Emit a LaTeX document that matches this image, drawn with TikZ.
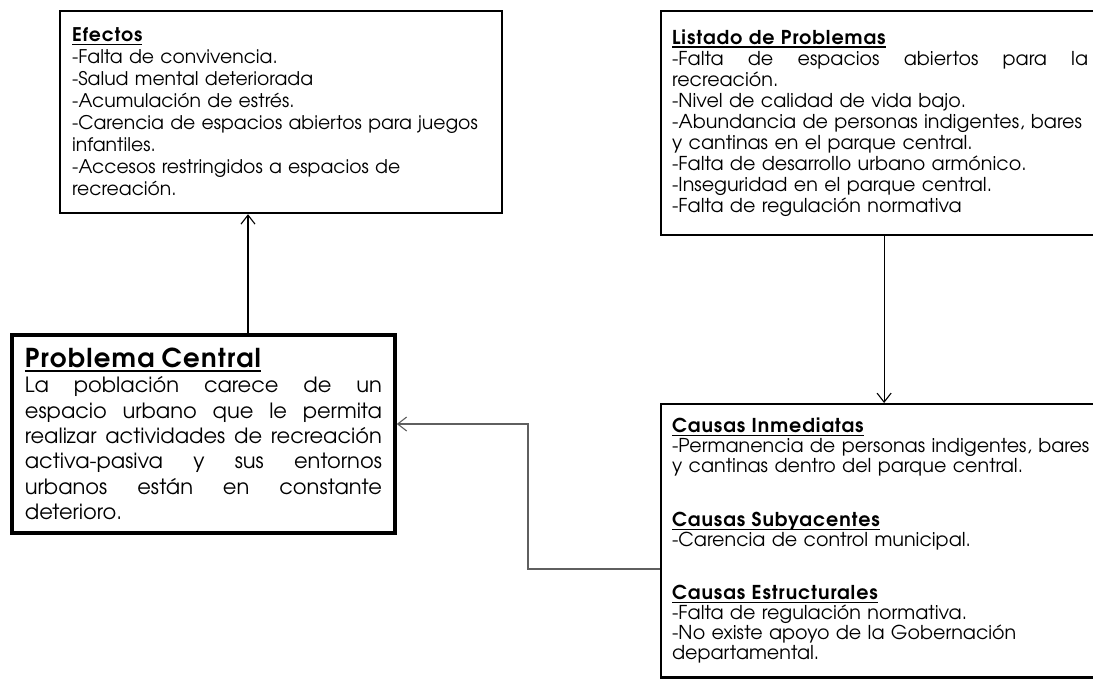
\documentclass[tikz,border=0pt]{standalone}
\usepackage{fontspec}
\setmainfont{texgyreadventor}[Extension=.otf,UprightFont=*-regular,BoldFont=*-bold]
\usetikzlibrary{arrows.meta}
\definecolor{grisflecha}{RGB}{95,95,95}
% subrayado pegado a la linea base
\newcommand{\subrayado}[1]{\setbox0\hbox{#1}\rlap{\vrule height -0.1em depth 0.17em width \wd0}\box0}
\newcommand{\encabezado}[1]{\textbf{\addfontfeature{LetterSpace=5}\subrayado{#1}}}
% linea justificada a todo el ancho
\newcommand{\justa}[2][\hsize]{\leavevmode\hbox to #1{#2}}

\begin{document}
\begin{tikzpicture}[x=1pt,y=-1pt,
    caja/.style={draw,line width=2.2pt,inner xsep=12pt,align=left,anchor=north west},
    flecha/.style={line width=1.1pt,-{Straight Barb[length=9pt,width=14pt,line width=1.1pt]}}]
    \fill[white] (0,0) rectangle (1093,681);
    \useasboundingbox (0,0) rectangle (1093,681);

    \node[caja,text width=418pt,minimum height=202pt,font=\fontsize{18.8}{22}\selectfont] (efectos) at (59,10)
        {\encabezado{Efectos}\\
        -Falta de convivencia.\\
        -Salud mental deteriorada\\
        -Acumulación de estrés.\\
        -Carencia de espacios abiertos para juegos\\
        infantiles.\\
        -Accesos restringidos a espacios de\\
        recreación.};

    \node[caja,text width=424pt,minimum height=224pt,inner xsep=11pt,font=\fontsize{19.1}{21}\selectfont] (listado) at (660,10)
        {\encabezado{Listado de Problemas}\\
        \justa[416pt]{-Falta\hfill de\hfill espacios\hfill abiertos\hfill para\hfill la}\\
        recreación.\\
        -Nivel de calidad de vida bajo.\\
        -Abundancia de personas indigentes, bares\\
        y cantinas en el parque central.\\
        -Falta de desarrollo urbano armónico.\\
        -Inseguridad en el parque central.\\
        -Falta de regulación normativa};

    \node[caja,line width=3.8pt,inner xsep=13pt,text width=357pt,minimum height=198pt,font=\fontsize{21}{25.3}\selectfont] (central) at (10,333)
        {{\fontsize{26}{25.3}\selectfont\encabezado{Problema Central}}\\
        \justa{La\hfill población\hfill carece\hfill de\hfill un}\\
        \justa{espacio\hfill urbano\hfill que\hfill le\hfill permita}\\
        \justa{realizar\hfill actividades\hfill de\hfill recreación}\\
        \justa{activa-pasiva\hfill y\hfill sus\hfill entornos}\\
        \justa{urbanos\hfill están\hfill en\hfill constante}\\
        deterioro.};

    \node[caja,text width=424pt,inner xsep=11pt,inner ysep=14pt,font=\fontsize{19.1}{20}\selectfont] (causas) at (660,403)
        {\encabezado{Causas Inmediatas}\\
        -Permanencia de personas indigentes, bares\\
        y cantinas dentro del parque central.\\[34pt]
        \encabezado{Causas Subyacentes}\\
        -Carencia de control municipal.\\[33pt]
        \encabezado{Causas Estructurales}\\
        -Falta de regulación normativa.\\
        -No existe apoyo de la Gobernación\\
        departamental.};

    \coordinate (codo) at (528,424);
    \draw[flecha] (central.north -| 248,0) -- (efectos.south -| 248,0);
    \draw[flecha] (listado.south) -- (causas.north);
    \draw[flecha,draw=grisflecha] (causas.west |- 0,569) -| (codo) -- (central.east |- codo);
\end{tikzpicture}
\end{document}
